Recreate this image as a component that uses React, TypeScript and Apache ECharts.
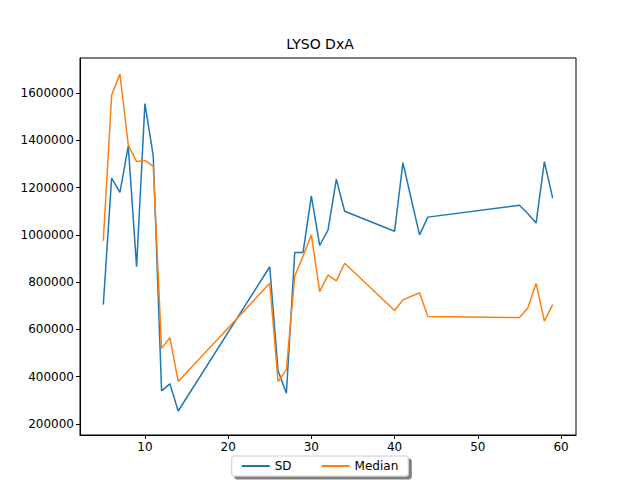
import React, { useRef, useEffect } from 'react'
import * as echarts from 'echarts'

const xs = [5, 6, 7, 8, 9, 10, 11, 12, 13, 14, 25, 26, 27, 28, 29, 30, 31, 32, 33, 34, 40, 41, 43, 44, 55, 56, 57, 58, 59]
const sd = [705000, 1240000, 1180000, 1375000, 865000, 1555000, 1335000, 340000, 370000, 255000, 865000, 425000, 330000, 925000, 925000, 1165000, 955000, 1020000, 1235000, 1100000, 1015000, 1305000, 1000000, 1075000, 1125000, 1090000, 1050000, 1310000, 1155000]
const median = [975000, 1590000, 1680000, 1380000, 1310000, 1315000, 1290000, 520000, 565000, 380000, 795000, 380000, 430000, 825000, 910000, 1000000, 760000, 830000, 805000, 880000, 680000, 725000, 755000, 655000, 650000, 690000, 795000, 635000, 705000]
const xTicks = [10, 20, 30, 40, 50, 60]
const yTicks = [200000, 400000, 600000, 800000, 1000000, 1200000, 1400000, 1600000]

const font = 'DejaVu Sans'

export default function App() {
  const ref = useRef<HTMLDivElement>(null)

  useEffect(() => {
    if (!ref.current) return
    const chart = echarts.init(ref.current, undefined, { renderer: 'svg' })
    const axisCommon = {
      axisLine: { onZero: false, lineStyle: { color: '#000' } },
      axisTick: { show: true, length: 4, inside: false, lineStyle: { color: '#000' } },
      axisLabel: { color: '#000', fontFamily: font, fontSize: 12 },
      splitLine: { show: false },
    }
    chart.setOption({
      animation: false,
      backgroundColor: '#fff',
      title: {
        text: 'LYSO DxA', left: 'center', top: 32,
        textStyle: { fontFamily: font, fontSize: 14, fontWeight: 'normal', color: '#000' },
      },
      grid: { left: 80, right: 64, top: 58, bottom: 45, show: true, borderColor: '#000', borderWidth: 1 },
      xAxis: {
        type: 'value', min: 2.2, max: 61.8,
        ...axisCommon,
        axisTick: { ...axisCommon.axisTick, customValues: xTicks },
        axisLabel: { ...axisCommon.axisLabel, customValues: xTicks, margin: 6 },
      },
      yAxis: {
        type: 'value', min: 153500, max: 1748000,
        ...axisCommon,
        axisTick: { ...axisCommon.axisTick, customValues: yTicks },
        axisLabel: { ...axisCommon.axisLabel, customValues: yTicks, formatter: (v: number) => String(v), margin: 6 },
      },
      legend: {
        bottom: 4, left: 'center',
        itemWidth: 28, itemHeight: 2, itemGap: 30,
        icon: 'rect',
        padding: [4, 10],
        borderColor: '#ccc', borderWidth: 1, borderRadius: 2,
        backgroundColor: '#fff',
        shadowColor: 'rgba(0,0,0,0.5)', shadowOffsetX: 3, shadowOffsetY: 3, shadowBlur: 0,
        textStyle: { fontFamily: font, fontSize: 12, color: '#000' },
        data: ['SD', 'Median'],
      },
      series: [
        { name: 'SD', type: 'line', data: xs.map((x, i) => [x, sd[i]]), showSymbol: false, symbol: 'none', lineStyle: { color: '#1f77b4', width: 1.5 }, itemStyle: { color: '#1f77b4' } },
        { name: 'Median', type: 'line', data: xs.map((x, i) => [x, median[i]]), showSymbol: false, symbol: 'none', lineStyle: { color: '#ff7f0e', width: 1.5 }, itemStyle: { color: '#ff7f0e' } },
      ],
    })
    return () => chart.dispose()
  }, [])

  return <div ref={ref} style={{ width: 640, height: 480, position: 'absolute', left: 0, top: 0 }} />
}
